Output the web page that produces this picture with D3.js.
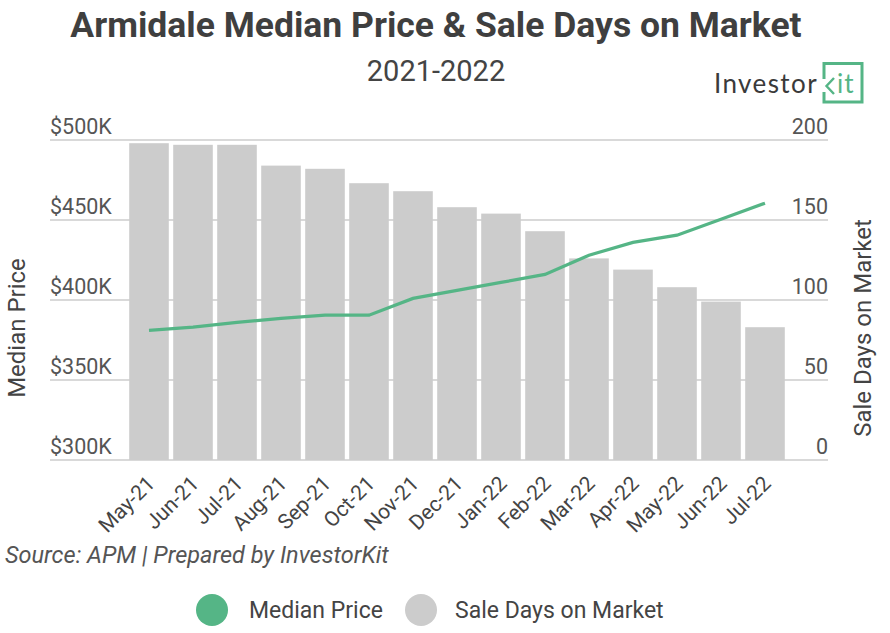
<!DOCTYPE html>
<html><head><meta charset="utf-8">
<script src="https://cdn.jsdelivr.net/npm/d3@7"></script>
<style>
html,body{margin:0;padding:0;background:#fff;}
svg text{font-family:Roboto,"Noto Sans",sans-serif;}
</style></head>
<body>
<svg id="chart" width="890" height="633"></svg>
<script>
const months = ["May-21","Jun-21","Jul-21","Aug-21","Sep-21","Oct-21","Nov-21","Dec-21","Jan-22","Feb-22","Mar-22","Apr-22","May-22","Jun-22","Jul-22"];
const medianPrice = [381, 383, 386, 388.5, 390.5, 390.5, 401, 406, 411, 416, 428, 436, 440.5, 450.5, 460.5]; // $K
const saleDays = [198, 197, 197, 184, 182, 173, 168, 158, 154, 143, 126, 119, 108, 99, 83];
const priceTicks = [300, 350, 400, 450, 500];
const dayTicks = [0, 50, 100, 150, 200];

const svg = d3.select("#chart");
const GREEN = "#55b586", BAR = "#cccccc", GRID = "#d9d9d9", TXT = "#444444";

const x = d3.scaleBand().domain(months).range([127, 787]).paddingInner(0.1).paddingOuter(0.05);
const yL = d3.scaleLinear().domain([300, 500]).range([460, 140]);
const yR = d3.scaleLinear().domain([0, 200]).range([460, 140]);

// title
svg.append("text").attr("x", 436).attr("y", 37).attr("text-anchor", "middle")
  .attr("font-size", 35.5).attr("font-weight", 700).attr("fill", "#3f3f3f")
  .text("Armidale Median Price & Sale Days on Market");
svg.append("text").attr("x", 436).attr("y", 81).attr("text-anchor", "middle")
  .attr("font-size", 29).attr("fill", TXT).text("2021-2022");

// logo
const logo = svg.append("g");
logo.append("text").attr("x", 714).attr("y", 93).attr("font-size", 26)
  .style("font-family", "Lato, 'Open Sans', sans-serif").attr("letter-spacing", 1.4)
  .attr("fill", "#3a3a3a").text("Investor");
logo.append("path").attr("fill", "none").attr("stroke", GREEN).attr("stroke-width", 3)
  .attr("d", "M824,79 L824,63.5 L862,63.5 L862,102 L824,102 L824,92");
logo.append("path").attr("fill", "none").attr("stroke", GREEN).attr("stroke-width", 2.4)
  .attr("d", "M834,78 L826.5,86 L834,94");
logo.append("text").attr("x", 837).attr("y", 93).attr("font-size", 26)
  .style("font-family", "Lato, 'Open Sans', sans-serif").attr("letter-spacing", 1)
  .attr("fill", GREEN).text("it");

// gridlines
svg.append("g").selectAll("line").data(priceTicks).join("line")
  .attr("x1", 50).attr("x2", 828).attr("y1", d => yL(d)).attr("y2", d => yL(d))
  .attr("stroke", GRID).attr("stroke-width", 2);

// left tick labels
svg.append("g").selectAll("text").data(priceTicks).join("text")
  .attr("x", 50).attr("y", d => yL(d) - 6).attr("font-size", 21.5).attr("fill", "#555")
  .text(d => "$" + d + "K");
// right tick labels
svg.append("g").selectAll("text").data(dayTicks).join("text")
  .attr("x", 828).attr("y", d => yR(d) - 6).attr("text-anchor", "end")
  .attr("font-size", 21.5).attr("fill", "#555").text(d => d);

// bars
svg.append("g").selectAll("rect").data(months).join("rect")
  .attr("x", d => x(d)).attr("width", x.bandwidth())
  .attr("y", (d, i) => yR(saleDays[i])).attr("height", (d, i) => yR(0) - yR(saleDays[i]))
  .attr("fill", BAR);

// line
const line = d3.line().x((d, i) => x(months[i]) + x.bandwidth() / 2).y(d => yL(d));
svg.append("path").datum(medianPrice).attr("d", line)
  .attr("fill", "none").attr("stroke", GREEN).attr("stroke-width", 3.2);

// x labels
svg.append("g").selectAll("text").data(months).join("text")
  .attr("transform", d => `translate(${x(d) + x.bandwidth() / 2 + 7},485) rotate(-45)`)
  .attr("text-anchor", "end").attr("font-size", 21).attr("fill", TXT).text(d => d);

// axis titles
svg.append("text").attr("transform", "translate(25,328) rotate(-90)").attr("text-anchor", "middle")
  .attr("font-size", 24).attr("fill", TXT).text("Median Price");
svg.append("text").attr("transform", "translate(871,328) rotate(-90)").attr("text-anchor", "middle")
  .attr("font-size", 24).attr("fill", TXT).text("Sale Days on Market");

// source
svg.append("text").attr("x", 5).attr("y", 563).attr("font-size", 23.5).attr("font-style", "italic")
  .attr("fill", "#555").text("Source: APM | Prepared by InvestorKit");

// legend
const legend = [{label: "Median Price", color: GREEN, cx: 212, tx: 249}, {label: "Sale Days on Market", color: BAR, cx: 421, tx: 455}];
const lg = svg.append("g").selectAll("g").data(legend).join("g");
lg.append("circle").attr("cx", d => d.cx).attr("cy", 610).attr("r", 16).attr("fill", d => d.color);
lg.append("text").attr("x", d => d.tx).attr("y", 618).attr("font-size", 23).attr("fill", TXT).text(d => d.label);
</script>
</body></html>
